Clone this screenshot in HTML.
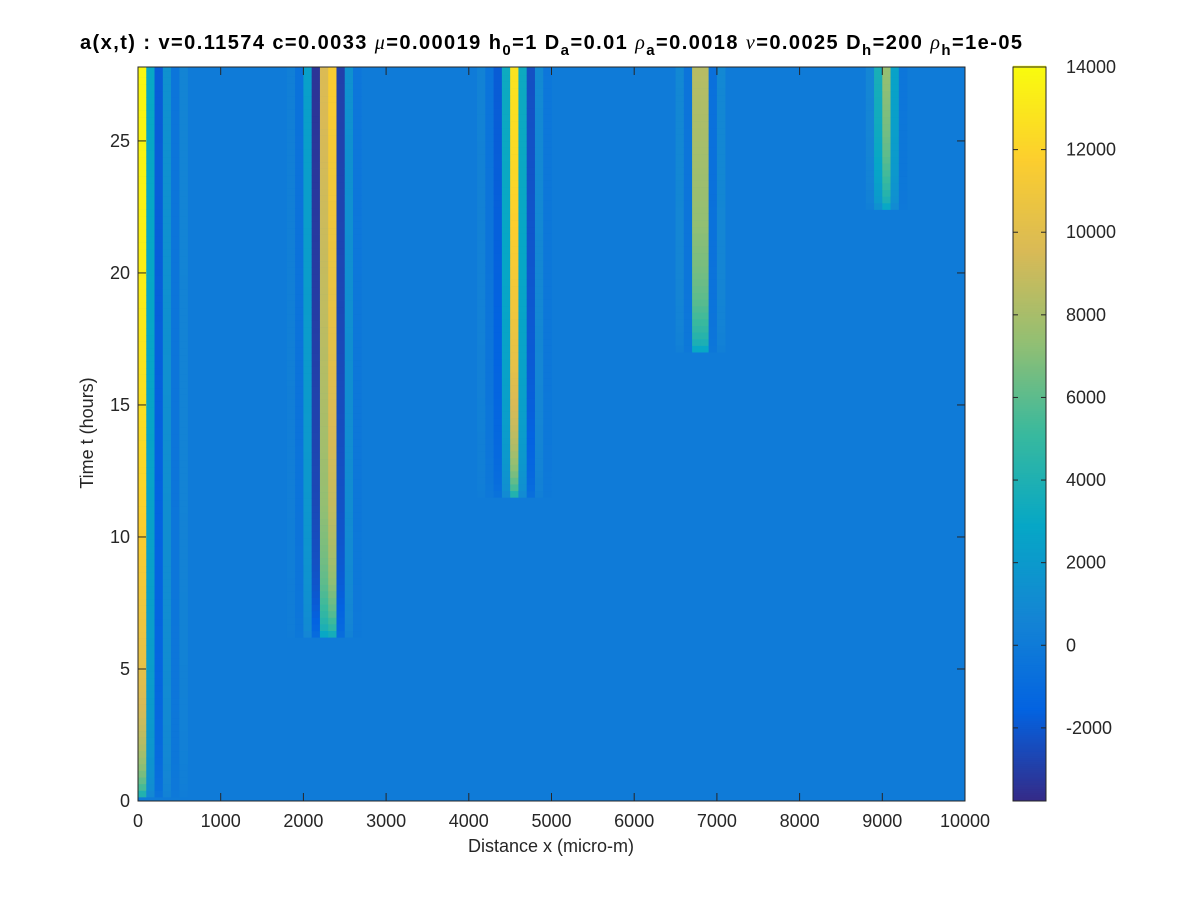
<!DOCTYPE html>
<html><head><meta charset="utf-8"><style>
body{margin:0;background:#fff;width:1200px;height:900px;overflow:hidden}
svg text{font-family:"Liberation Sans",sans-serif}
</style></head><body>
<svg id="chart" width="1200" height="900" xmlns="http://www.w3.org/2000/svg">
<rect width="1200" height="900" fill="#fff"/>
<text x="80" y="49" textLength="942" lengthAdjust="spacing" font-size="20" font-weight="bold" fill="#000">a(x,t) :  v=0.11574 c=0.0033 <tspan font-weight="normal" font-style="italic" font-family="Liberation Serif">μ</tspan>=0.00019 h<tspan dy="6" font-size="15">0</tspan><tspan dy="-6">=1 D</tspan><tspan dy="6" font-size="15">a</tspan><tspan dy="-6">=0.01 </tspan><tspan font-weight="normal" font-style="italic" font-family="Liberation Serif">ρ</tspan><tspan dy="6" font-size="15">a</tspan><tspan dy="-6">=0.0018 </tspan><tspan font-weight="normal" font-style="italic" font-family="Liberation Serif">ν</tspan>=0.0025 D<tspan dy="6" font-size="15">h</tspan><tspan dy="-6">=200 </tspan><tspan font-weight="normal" font-style="italic" font-family="Liberation Serif">ρ</tspan><tspan dy="6" font-size="15">h</tspan><tspan dy="-6">=1e-05</tspan></text>
<g id="plot"></g>
<g id="cbar"></g>
<g id="axes"></g>
<text x="551" y="852" text-anchor="middle" font-size="18" fill="#262626">Distance x (micro-m)</text>
<text transform="translate(93,433) rotate(-90)" text-anchor="middle" font-size="18" fill="#262626">Time t (hours)</text>
</svg>
<script>
// ---- data ----
const xTicks=[0,1000,2000,3000,4000,5000,6000,7000,8000,9000,10000];
const yTicks=[0,5,10,15,20,25];
const cTicks=[-2000,0,2000,4000,6000,8000,10000,12000,14000];
const siteStartCol=[0,18,41,65,88];
const siteOnset=[0.15,6.2,11.5,17.0,22.4];
const site1Cols=[14000,3000,-1800,1500,-400,600];
const site2Cols=[300,-600,2500,-3500,10000,12000,-3000,1500,-300];
const site3Cols=[500,-500,-2000,3500,14000,3500,-2500,1000,-300];
const site4Cols=[1000,-500,10000,10000,-800,1000];
const site5Cols=[1000,5000,10000,3500,-400];
const rampHours=[0,0.4,1,2,3,5,8,12,20,30];
const rampMult=[0.25,0.4,0.5,0.6,0.66,0.74,0.8,0.87,0.96,1];
const siteCols=[site1Cols,site2Cols,site3Cols,site4Cols,site5Cols];
// ---- scales ----
const X0=138,X1=965,Y0=801,Y1=67,XMAX=10000,TMAX=27.8;
const CMIN=-3770,CMAX=14000,CB0=1013,CB1=1046;
const sx=v=>X0+(v/XMAX)*(X1-X0);
const sy=t=>Y0-(t/TMAX)*(Y0-Y1);
const sc=v=>Y0-((v-CMIN)/(CMAX-CMIN))*(Y0-Y1);
const stops=[[53,42,135],[3,99,225],[20,133,212],[6,167,198],[56,185,158],[146,191,115],[217,186,86],[252,206,46],[249,251,14]];
function parula(v){let f=(v-CMIN)/(CMAX-CMIN);f=Math.max(0,Math.min(1,f))*(stops.length-1);
 const i=Math.min(stops.length-2,Math.floor(f)),r=f-i,a=stops[i],b=stops[i+1];
 return `rgb(${a.map((c,k)=>Math.round(c+(b[k]-c)*r)).join(',')})`;}
function ramp(h){if(h<0)return 0;for(let i=1;i<rampHours.length;i++){if(h<=rampHours[i]){const r=(h-rampHours[i-1])/(rampHours[i]-rampHours[i-1]);return rampMult[i-1]+(rampMult[i]-rampMult[i-1])*r;}}return 1;}
const NS='http://www.w3.org/2000/svg';
function mk(tag,attrs,parent){const e=document.createElementNS(NS,tag);for(const k in attrs)e.setAttribute(k,attrs[k]);parent.appendChild(e);return e;}
const plot=document.getElementById('plot');
const bg=mk('rect',{x:X0,y:Y1,width:X1-X0,height:Y0-Y1,fill:parula(0)},plot);


const dt=0.25;
siteCols.forEach((cols,s)=>{
 cols.forEach((val,j)=>{
  const x=(siteStartCol[s]+j)*100;
  for(let t=siteOnset[s];t<TMAX;t+=dt){
   const v=val*ramp(t-siteOnset[s]+dt/2);
   const r=mk('rect',{x:sx(x),y:sy(Math.min(TMAX,t+dt)),width:sx(x+100)-sx(x)+0.3,height:sy(t)-sy(Math.min(TMAX,t+dt))+0.3,fill:parula(v)},plot);
   
   
  }
 });
});
// axes
const ax=document.getElementById('axes');
mk('rect',{x:X0,y:Y1,width:X1-X0,height:Y0-Y1,fill:'none',stroke:'#262626','stroke-width':1},ax);
xTicks.forEach(v=>{const x=sx(v);mk('line',{x1:x,x2:x,y1:Y0,y2:Y0-8,stroke:'#262626'},ax);mk('line',{x1:x,x2:x,y1:Y1,y2:Y1+8,stroke:'#262626'},ax);
 const t=mk('text',{x:x,y:Y0+26,'text-anchor':'middle','font-size':18,fill:'#262626'},ax);t.textContent=v;
 
 });
yTicks.forEach(v=>{const y=sy(v);mk('line',{x1:X0,x2:X0+8,y1:y,y2:y,stroke:'#262626'},ax);mk('line',{x1:X1,x2:X1-8,y1:y,y2:y,stroke:'#262626'},ax);
 const t=mk('text',{x:X0-8,y:y+6,'text-anchor':'end','font-size':18,fill:'#262626'},ax);t.textContent=v;
 
 });
// colorbar
const cb=document.getElementById('cbar');
for(let v=CMIN;v<CMAX;v+=50){mk('rect',{x:CB0,y:sc(v+50),width:CB1-CB0,height:sc(v)-sc(v+50)+0.5,fill:parula(v+25)},cb);}
mk('rect',{x:CB0,y:Y1,width:CB1-CB0,height:Y0-Y1,fill:'none',stroke:'#262626'},cb);
cTicks.forEach(v=>{const y=sc(v);mk('line',{x1:CB1,x2:CB1-5,y1:y,y2:y,stroke:'#262626'},cb);mk('line',{x1:CB0,x2:CB0+5,y1:y,y2:y,stroke:'#262626'},cb);
 const t=mk('text',{x:CB1+20,y:y+6,'font-size':18,fill:'#262626'},cb);t.textContent=v;
 
 });
</script>
</body></html>
